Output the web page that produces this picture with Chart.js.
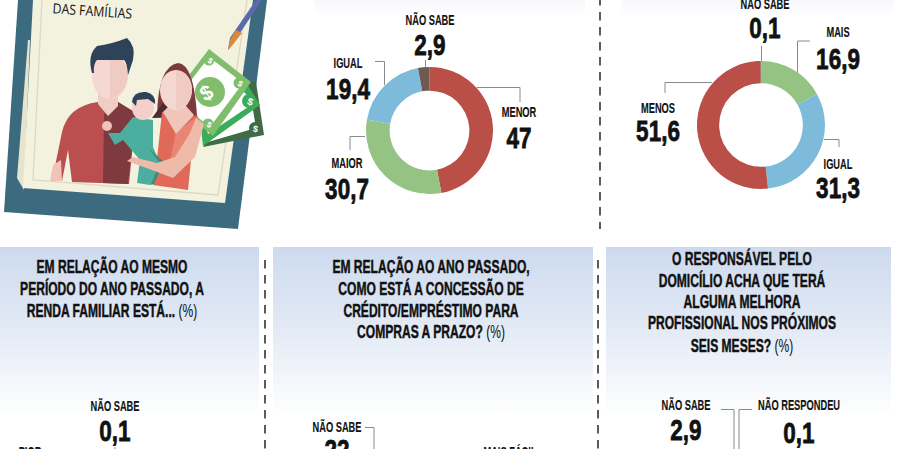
<!DOCTYPE html>
<html>
<head>
<meta charset="utf-8">
<script src="https://cdn.jsdelivr.net/npm/chart.js@4"></script>
<style>
  html, body { margin: 0; padding: 0; background: #fff; }
  #page { position: relative; width: 898px; height: 449px; overflow: hidden; }
  #page svg { position: absolute; left: 0; top: 0; }
  #page canvas { position: absolute; }
  text { font-family: "Liberation Sans", sans-serif; font-weight: 700; fill: #111; text-anchor: middle; }
</style>
</head>
<body>
<div id="page">
<svg id="art" width="898" height="449" viewBox="0 0 898 449" xmlns="http://www.w3.org/2000/svg">
  <defs>
    <linearGradient id="panelFade" x1="0" y1="0" x2="0" y2="1">
      <stop offset="0" stop-color="#cddaee"/>
      <stop offset="0.4" stop-color="#dfe7f4"/>
      <stop offset="1" stop-color="#ffffff"/>
    </linearGradient>
    <linearGradient id="topFade" x1="0" y1="0" x2="0" y2="1">
      <stop offset="0" stop-color="#f7f8fc"/>
      <stop offset="1" stop-color="#ffffff"/>
    </linearGradient>
  </defs>

  <!-- panels -->
  <rect x="315" y="0" width="270" height="16" fill="url(#topFade)"/>
  <rect x="622" y="0" width="271" height="16" fill="url(#topFade)"/>
  <rect x="0" y="247" width="259" height="170" fill="url(#panelFade)"/>
  <rect x="273" y="247" width="320" height="170" fill="url(#panelFade)"/>
  <rect x="606" y="247" width="285" height="170" fill="url(#panelFade)"/>

  <!-- dashed dividers -->
  <g stroke="#333" stroke-width="1.6" stroke-dasharray="8.5 6.5">
    <line x1="600" y1="-3" x2="600" y2="229"/>
    <line x1="265" y1="260" x2="265" y2="449"/>
    <line x1="598" y1="260" x2="598" y2="449"/>
  </g>

  <!-- illustration: book -->
  <polygon points="18,0 267,0 238,229 4,212" fill="#3c6a7e"/>
  <polygon points="28,40 30,40 24,190 17,178" fill="#e7e4cd"/>
  <polygon points="33,0 253,0 225,203 23,188" fill="#f3f2df"/>
  <polyline points="42,0 33,180 218,195 247,0" fill="none" stroke="#ddd8c2" stroke-width="1.3"/>

  <!-- pencil -->
  <polygon points="256,0 262,0 234,42 228,50 230,38" fill="#5b6aa8"/>
  <polygon points="236,30 242,33 231,47 228,50 230,40" fill="#d98a3c"/>

  <!-- money -->
  <polygon points="203,147 264,135 256,82 240,80" fill="#3f6b47"/>
  <polygon points="208,142 256,128 250,92 236,110" fill="#ffffff"/>
  <polygon points="203,146 260,105 247,84 200,120" fill="#3cab5a"/>
  <polygon points="208,134 254,103 244,92 205,122" fill="#ffffff"/>
  <polygon points="209,49 251,82 213,136 170,100" fill="#80bd6c"/>
  <polygon points="209,57 243,83 210,127 176,100" fill="#ffffff"/>
  <circle cx="210" cy="92" r="15" fill="#80bd6c"/>
  <circle cx="249" cy="101" r="7" fill="#3cab5a"/>
  <circle cx="255" cy="128" r="6" fill="#3f6b47"/>
  <circle cx="239" cy="83" r="5.5" fill="#80bd6c"/>
  <circle cx="209" cy="60" r="5.5" fill="#80bd6c"/>
  <circle cx="208" cy="124" r="5.5" fill="#80bd6c"/>

  <!-- man -->
  <path d="M52,181 L62,132 Q68,106 98,102 L118,102 L136,113 L129,184 L72,182 L68,150 L62,181 Z" fill="#bb4e4e"/>
  <path d="M104,114 L118,102 L136,113 L128,184 L103,183 Z" fill="#7f3a40"/>
  <path d="M50,181 L53,165 L61,160 L62,181 Z" fill="#efc3b6"/>
  <path d="M98,92 L118,92 L118,106 L108,116 L98,104 Z" fill="#f0cdc5"/>
  <ellipse cx="110" cy="76" rx="18" ry="23" fill="#f6d8d3"/>
  <path d="M110,53 Q128,58 128,76 Q126,94 110,99 Z" fill="#efcbc3"/>
  <path d="M92,73 Q87,55 97,46 Q112,44 127,38 Q136,46 133,60 L128,75 Q127,62 124,60 L97,60 Q93,64 94,73 Z" fill="#2e4259"/>

  <!-- woman -->
  <path d="M157,116 Q158,66 178,63 Q194,64 197,116 Z" fill="#7d3a3c"/>
  <path d="M152,118 L165,100 L198,117 Z" fill="#4f2a30"/>
  <path d="M162,112 L198,116 L192,150 L188,190 L153,185 L158,150 Z" fill="#e0695a"/>
  <path d="M176,132 L198,116 L192,150 L170,160 Z" fill="#e88573"/>
  <path d="M163,112 L169,106 L186,106 L194,115 L176,134 Z" fill="#f0c6ba"/>
  <ellipse cx="176" cy="90" rx="16" ry="20" fill="#f6d8d3"/>
  <path d="M176,70 Q192,74 192,90 Q190,106 176,110 Z" fill="#efcbc3"/>

  <!-- child -->
  <path d="M108,133 L120,133 L133,117 L153,120 L153,147 L160,163 L150,185 L137,183 L140,160 L123,140 L115,145 Z" fill="#4cae9f"/>
  <path d="M148,148 L160,163 L150,185 L154,184 L164,162 Z" fill="#3d8e78"/>
  <ellipse cx="143" cy="108" rx="11" ry="12" fill="#f3d0ca"/>
  <path d="M132,102 Q133,91 146,92 Q156,94 155,104 L148,99 L137,100 L136,106 Z" fill="#2e4259"/>
  <circle cx="107" cy="126" r="5" fill="#efc3b6"/>

  <!-- woman's arm over the child -->
  <path d="M196,118 L204,124 L195,157 L173,178 L152,170 L127,161 L133,157 L157,163 L175,157 L190,133 Z" fill="#eebaa9"/>
</svg>

<canvas id="chartA" style="left:365px;top:66px"></canvas>
<canvas id="chartB" style="left:696px;top:60px"></canvas>
</div>

<script>
// top left doughnut
const menorLabels = ['MENOR', 'MAIOR', 'IGUAL', 'NÃO SABE'];
const menorValues = [47, 30.7, 19.4, 2.9];
const menorColors = ['#b94f46', '#94c384', '#7ebbdb', '#6e5a50'];

// top right doughnut
const maisLabels = ['MAIS', 'IGUAL', 'MENOS', 'NÃO SABE'];
const maisValues = [16.9, 31.3, 51.6, 0.1];
const maisColors = ['#94c384', '#7ebbdb', '#b94f46', '#6e5a50'];

const panelTitles = [
    { x: 112, lines: ['EM RELAÇÃO AO MESMO', 'PERÍODO DO ANO PASSADO, A', 'RENDA FAMILIAR ESTÁ...'], baselines: [273, 295, 317] },
    { x: 431, lines: ['EM RELAÇÃO AO ANO PASSADO,', 'COMO ESTÁ A CONCESSÃO DE', 'CRÉDITO/EMPRÉSTIMO PARA', 'COMPRAS A PRAZO?'], baselines: [273, 295, 317, 338] },
    { x: 742, lines: ['O RESPONSÁVEL PELO', 'DOMICÍLIO ACHA QUE TERÁ', 'ALGUMA MELHORA', 'PROFISSIONAL NOS PRÓXIMOS', 'SEIS MESES?'], baselines: [265, 287, 308, 329, 352] }
];

const SVG_NS = 'http://www.w3.org/2000/svg';
const art = document.getElementById('art');

// no condensed font here, so squeeze the text horizontally
const addText = (str, x, y, size, squeeze, heavy) => {
    const el = document.createElementNS(SVG_NS, 'text');
    el.setAttribute('transform', `translate(${x},${y}) scale(${squeeze},1)`);
    el.setAttribute('font-size', size);
    if (heavy) {
        el.setAttribute('stroke', '#111');
        el.setAttribute('stroke-width', heavy);
    }
    el.textContent = str;
    art.appendChild(el);
    return el;
};

const addLeader = (points) => {
    const el = document.createElementNS(SVG_NS, 'polyline');
    el.setAttribute('points', points);
    el.setAttribute('fill', 'none');
    el.setAttribute('stroke', '#8a8a8a');
    el.setAttribute('stroke-width', '1');
    art.appendChild(el);
};

const fmt = (v) => String(v).replace('.', ',');

// label + big number under it
const addCallout = (label, value, x, labelY, numY) => {
    addText(label, x, labelY, 15, 0.62, 0.15);
    addText(fmt(value), x, numY, 30, 0.75, 0.8);
};

const createDoughnut = (canvasId, labels, values, colors, outer, inner) => {
    const canvas = document.getElementById(canvasId);
    const size = Math.ceil(outer * 2) + 2;
    canvas.width = size;
    canvas.height = size;
    canvas.style.width = size + 'px';
    canvas.style.height = size + 'px';
    return new Chart(canvas.getContext('2d'), {
        type: 'doughnut',
        data: {
            labels: labels,
            datasets: [{
                data: values,
                backgroundColor: colors,
                borderWidth: 0
            }]
        },
        options: {
            responsive: false,
            animation: false,
            radius: outer,
            cutout: inner,
            plugins: {
                legend: { display: false },
                tooltip: { enabled: false }
            }
        }
    });
};

createDoughnut('chartA', menorLabels, menorValues, menorColors, 63.5, 40.5);
createDoughnut('chartB', maisLabels, maisValues, maisColors, 64, 42.5);

// leaders
['425.5,60 425.5,68', '477,87.5 520,87.5 520,102', '375,61.5 384.5,61.5 384.5,85', '365,136.5 350,136.5 350,150',
 '761.5,46 761.5,61', '810,41 797.5,41 797.5,73', '712,82.5 665,82.5 665,93', '824,139.5 839,139.5 839,147',
 '365,427.5 374,427.5 374,449', '721,409.5 734,409.5 734,449', '752,409.5 739,409.5 739,449', '115,447 115,449'
].forEach(addLeader);

// callouts
addCallout(menorLabels[0], menorValues[0], 519, 117, 148);
addCallout(menorLabels[1], menorValues[1], 347, 168, 199);
addCallout(menorLabels[2], menorValues[2], 348, 68, 99);
addCallout(menorLabels[3], menorValues[3], 430, 25, 55);

addCallout(maisLabels[0], maisValues[0], 838, 37, 69);
addCallout(maisLabels[1], maisValues[1], 838, 169, 198);
addCallout(maisLabels[2], maisValues[2], 658, 113, 141);
addCallout(maisLabels[3], maisValues[3], 765, 9, 38);

// lower row, cut off by the window
addCallout('NÃO SABE', 0.1, 115, 411, 441);
addText('PIOR', 30, 457, 15, 0.62, 0.15);
addCallout('NÃO SABE', 22, 337, 432, 460);
addText('MAIS FÁCIL', 510, 457, 15, 0.62, 0.15);
addCallout('NÃO SABE', 2.9, 686, 410, 440);
addCallout('NÃO RESPONDEU', 0.1, 799, 410, 443);

// panel titles
panelTitles.forEach((p) => {
    p.lines.forEach((line, i) => {
        const el = addText(line, p.x, p.baselines[i], 17.5, 0.69, 0.45);
        if (i === p.lines.length - 1) {
            const pct = document.createElementNS(SVG_NS, 'tspan');
            pct.setAttribute('font-weight', '400');
            pct.setAttribute('stroke-width', '0');
            pct.textContent = ' (%)';
            el.appendChild(pct);
        }
    });
});

// book caption and money signs
const caption = addText('DAS FAMÍLIAS', 0, 0, 14);
caption.setAttribute('transform', 'translate(92,16) rotate(4) scale(0.88,1)');
caption.style.fontFamily = '"Open Sans", sans-serif';
caption.style.fontWeight = '400';
[[210, 99, 21, -30], [209, 63, 8, 30], [239, 86, 8, 30], [208, 127, 8, 30], [249, 105, 10, 20], [255, 132, 9, 10]].forEach((s) => {
    const el = addText('$', 0, 0, s[2], 1);
    el.setAttribute('transform', `translate(${s[0]},${s[1]}) rotate(${s[3]})`);
    el.style.fill = '#fff';
});
</script>
</body>
</html>
